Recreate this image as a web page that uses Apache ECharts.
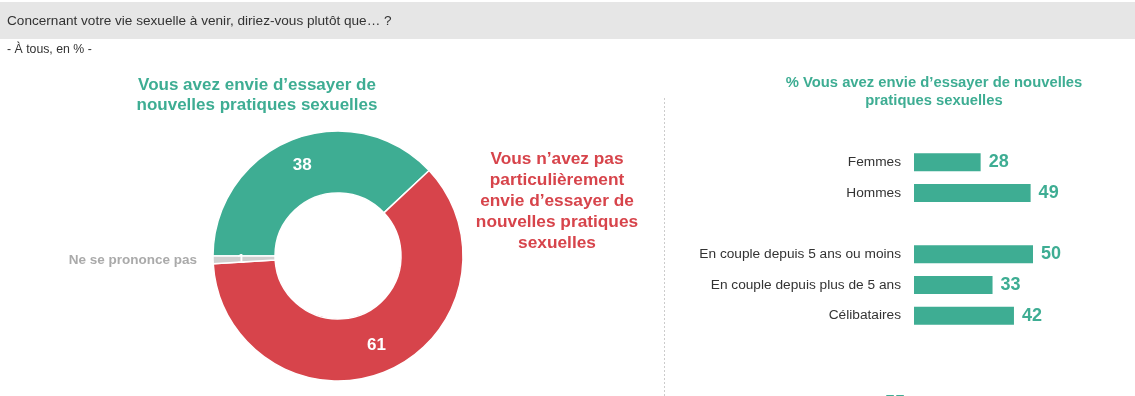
<!DOCTYPE html>
<html>
<head>
<meta charset="utf-8">
<script src="https://cdn.jsdelivr.net/npm/echarts@6/dist/echarts.min.js"></script>
<style>
  html, body { margin: 0; padding: 0; background: #fff; }
  #chart { width: 1135px; height: 396px; }
</style>
</head>
<body>
<div id="chart"></div>
<script>
// donut: answers for everyone
const pieNames = [
  'Vous avez envie d\u2019essayer de\nnouvelles pratiques sexuelles',
  'Vous n\u2019avez pas\nparticulièrement\nenvie d\u2019essayer de\nnouvelles pratiques\nsexuelles',
  'Ne se prononce pas'
]
const pieValues = [38, 61, 1]
const pieColors = ['#3EAD93', '#D7444B', '#CFCFCF']

// bars: % who want to try new practices, by group
const barCategories = ['Femmes', 'Hommes', '', 'En couple depuis 5 ans ou moins', 'En couple depuis plus de 5 ans', 'Célibataires']
const barValues = [28, 49, null, 50, 33, 42]
const cutOffLabel = '55'

const font = 'Arial, "Liberation Sans", sans-serif'
const green = '#3EAD93'

const chart = echarts.init(document.getElementById('chart'))

const options = {
  textStyle: { fontFamily: font },
  animation: false,
  graphic: [
    // header band
    { type: 'rect', shape: { x: 0, y: 2, width: 1135, height: 37 }, style: { fill: '#E6E6E6' }, silent: true },
    { type: 'text', left: 7, top: 14, style: { text: 'Concernant votre vie sexuelle à venir, diriez-vous plutôt que\u2026 ?', font: '13.6px ' + font, fill: '#333' } },
    { type: 'text', left: 7, top: 44, style: { text: '- À tous, en % -', font: '12.3px ' + font, fill: '#333' } },
    // donut outside labels
    { type: 'text', x: 257, y: 75, style: { text: pieNames[0], font: 'bold 17px ' + font, fill: pieColors[0], align: 'center', lineHeight: 20 } },
    { type: 'text', x: 557, y: 149, style: { text: pieNames[1], font: 'bold 17.3px ' + font, fill: pieColors[1], align: 'center', lineHeight: 21 } },
    { type: 'text', x: 197, y: 253, style: { text: pieNames[2], font: 'bold 13.5px ' + font, fill: '#AAAAAA', align: 'right' } },
    // dotted separator
    { type: 'line', shape: { x1: 664.5, y1: 98, x2: 664.5, y2: 396 }, style: { stroke: '#CCCCCC', lineWidth: 1, lineDash: [2, 2] } },
    // right panel title
    { type: 'text', x: 934, y: 74, style: { text: '% Vous avez envie d\u2019essayer de nouvelles\npratiques sexuelles', font: 'bold 14.8px ' + font, fill: green, align: 'center', lineHeight: 18 } },
    { type: 'text', x: 895, y: 394, style: { text: cutOffLabel, font: 'bold 18px ' + font, fill: green, align: 'center' } }
  ],
  grid: { left: 914, top: 147, width: 238, height: 184, outerBoundsMode: 'none', containLabel: false },
  xAxis: { type: 'value', min: 0, max: 100, show: false },
  yAxis: {
    type: 'category',
    data: barCategories,
    inverse: true,
    axisLine: { show: false },
    axisTick: { show: false },
    axisLabel: { color: '#333', fontSize: 13.7, margin: 13, fontFamily: font }
  },
  series: [
    {
      type: 'pie',
      center: [338, 256],
      radius: [63, 125],
      startAngle: 180,
      clockwise: true,
      avoidLabelOverlap: false,
      itemStyle: { borderColor: '#fff', borderWidth: 1.5 },
      label: {
        position: 'inside',
        color: '#fff',
        fontWeight: 'bold',
        fontSize: 17,
        fontFamily: font,
        formatter: '{c}'
      },
      labelLine: { show: false },
      data: pieValues.map((v, i) => ({
        value: v,
        name: pieNames[i],
        itemStyle: { color: pieColors[i] },
        label: i === 2 ? { fontSize: 13 } : {}
      }))
    },
    {
      type: 'bar',
      data: barValues,
      barWidth: 18,
      itemStyle: { color: green },
      label: {
        show: true,
        position: 'right',
        distance: 8,
        color: green,
        fontWeight: 'bold',
        fontSize: 18,
        fontFamily: font
      }
    }
  ]
}
chart.setOption(options)
</script>
</body>
</html>
